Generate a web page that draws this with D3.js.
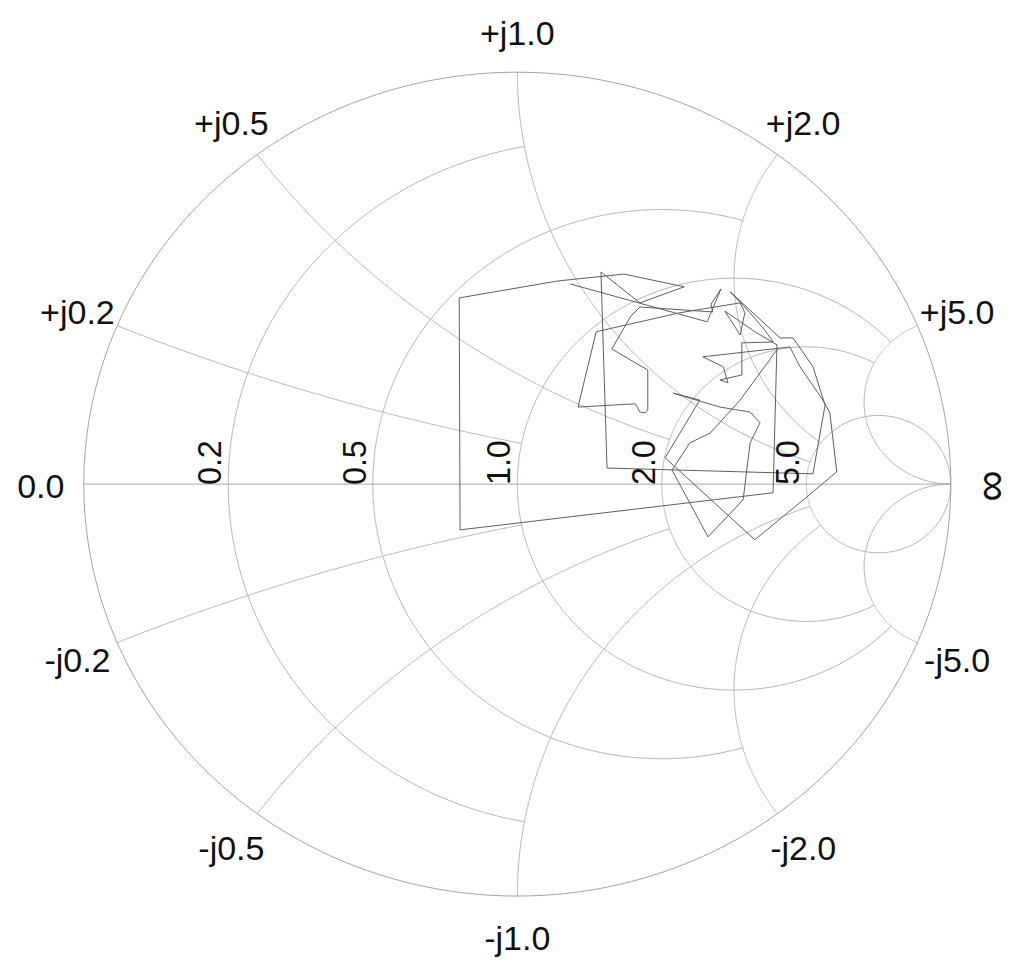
<!DOCTYPE html>
<html>
<head>
<meta charset="utf-8">
<script src="https://cdn.jsdelivr.net/npm/d3@7"></script>
<style>
  body { margin: 0; background: #fff; }
  svg { display: block; }
  text { font-family: "Liberation Sans", Arial, sans-serif; fill: #111; }
</style>
</head>
<body>
<script>
// picture is a square chart squeezed to 1024x973
const m = { width: 1024, height: 973, side: 1024 }
const cx = 517.3, cy = 509.5, R = 433.5

const realTicks = [0.2, 0.5, 1, 2, 5]
const realLabels = ['0.2', '0.5', '1.0', '2.0', '5.0']
const imagTicks = [0.2, 0.5, 1, 2, 5]
const imagLabels = ['0.2', '0.5', '1.0', '2.0', '5.0']
// how far each grid arc runs before it stops
const realStop = [1, 2, 5, 5, Infinity]
const imagStop = [1, 2, 5, 5, Infinity]

// reflection coefficient of the trace
const gammaRe = [0.122, 0.438, 0.470, 0.447, 0.451, 0.283, 0.262, 0.218, 0.301, 0.301,
    0.295, 0.283, 0.272, 0.140, 0.182, 0.375, 0.514, 0.525, 0.514, 0.479,
    0.548, 0.599, 0.590, -0.132, -0.134, 0.092, 0.246, 0.385, 0.283, 0.193,
    0.207, 0.682, 0.710, 0.682, 0.636, 0.606, 0.491, 0.537, 0.571, 0.590,
    0.518, 0.518, 0.468, 0.486, 0.475, 0.428, 0.629, 0.652, 0.705, 0.721,
    0.737, 0.668, 0.548, 0.341, 0.421, 0.359, 0.468, 0.537, 0.560, 0.537,
    0.521, 0.440, 0.357, 0.398, 0.445, 0.514, 0.599]
const gammaIm = [0.486, 0.394, 0.474, 0.437, 0.418, 0.430, 0.408, 0.328, 0.277, 0.180,
    0.173, 0.175, 0.195, 0.187, 0.370, 0.416, 0.440, 0.416, 0.362, 0.420,
    0.370, 0.338, -0.021, -0.111, 0.452, 0.493, 0.510, 0.479, 0.440, 0.515,
    0.039, 0.025, 0.192, 0.285, 0.355, 0.355, 0.467, 0.416, 0.374, 0.345,
    0.343, 0.265, 0.253, 0.246, 0.285, 0.309, 0.333, 0.285, 0.204, 0.173,
    0.030, -0.031, -0.135, 0.064, 0.204, 0.221, 0.187, 0.175, 0.149, 0.100,
    -0.038, -0.128, 0.034, 0.100, 0.124, 0.204, 0.326]

const svg = d3.select('body').append('svg')
    .attr('width', m.width)
    .attr('height', m.height)
    .attr('viewBox', `0 0 ${m.side} ${m.side}`)
    .attr('preserveAspectRatio', 'none')

const gx = d3.scaleLinear().domain([-1, 1]).range([cx - R, cx + R])
const gy = d3.scaleLinear().domain([-1, 1]).range([cy + R, cy - R])
const line = d3.line().x(d => gx(d[0])).y(d => gy(d[1]))

function smith(r, x) {
    if (!isFinite(r) || !isFinite(x)) return [1, 0]
    const d = (r + 1) * (r + 1) + x * x
    return [(r * r + x * x - 1) / d, 2 * x / d]
}

function resistancePts(r, stop) {
    const a = Math.atan(stop)
    return d3.range(0, 401).map(i => {
        const p = -a + 2 * a * i / 400
        return smith(r, Math.tan(p))
    })
}

function reactancePts(x, stop) {
    const a = Math.atan(stop)
    return d3.range(0, 301).map(i => smith(Math.tan(a * i / 300), x))
}

const grid = svg.append('g')
    .attr('fill', 'none')
    .attr('stroke', '#b4b4b4')
    .attr('stroke-width', 1)

realTicks.forEach((r, i) => {
    grid.append('path').attr('d', line(resistancePts(r, realStop[i])))
})
imagTicks.forEach((x, i) => {
    grid.append('path').attr('d', line(reactancePts(x, imagStop[i])))
    grid.append('path').attr('d', line(reactancePts(-x, imagStop[i])))
})

// outer circle and real axis
grid.append('path')
    .attr('stroke', '#a0a0a0')
    .attr('d', line(resistancePts(0, Infinity)))
grid.append('path')
    .attr('stroke', '#a8a8a8')
    .attr('d', line([[-1, 0], [1, 0]]))

// trace
svg.append('path')
    .datum(gammaRe.map((g, i) => [g, gammaIm[i]]))
    .attr('fill', 'none')
    .attr('stroke', '#5a5a5a')
    .attr('stroke-width', 1)
    .attr('stroke-linejoin', 'round')
    .attr('d', line)

// labels
const fs = 34, off = 43, shift = 2
const labels = svg.append('g').attr('font-size', fs)

realTicks.forEach((r, i) => {
    const p = smith(r, 0)
    labels.append('text')
        .attr('transform', `translate(${gx(p[0]) - 7},${gy(0) + 1}) rotate(-90)`)
        .text(realLabels[i])
})

const rim = []
imagTicks.forEach((x, i) => {
    rim.push({ g: smith(0, x), t: '+j' + imagLabels[i] })
    rim.push({ g: smith(0, -x), t: '-j' + imagLabels[i] })
})
rim.push({ g: [-1, 0], t: '0.0' })

rim.forEach(d => {
    const a = Math.atan2(d.g[1], d.g[0])
    labels.append('text')
        .attr('x', cx + (R + off) * Math.cos(a))
        .attr('y', cy - (R + off) * Math.sin(a) + shift)
        .attr('dy', '0.36em')
        .attr('text-anchor', 'middle')
        .text(d.t)
})

labels.append('text')
    .attr('transform', `translate(${cx + R + off},${cy + shift}) rotate(90)`)
    .attr('font-size', 46)
    .attr('dy', '0.33em')
    .attr('text-anchor', 'middle')
    .text('\u221e')
</script>
</body>
</html>
